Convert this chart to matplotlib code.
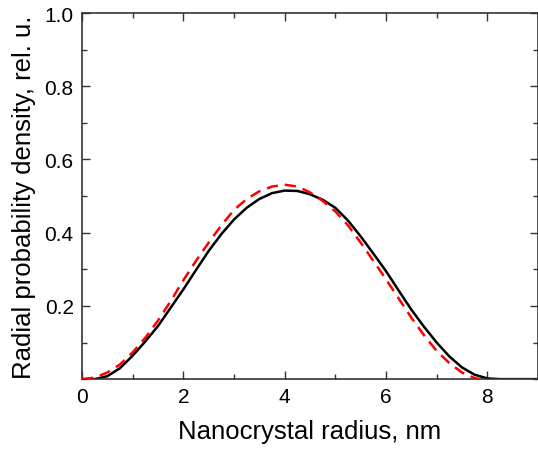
import matplotlib
matplotlib.use("Agg")
import matplotlib.pyplot as plt
from matplotlib.ticker import MultipleLocator, FixedLocator

plt.rcParams['font.family'] = ['Liberation Sans', 'DejaVu Sans']

# black solid curve
x_black = [0, 0.25, 0.5, 0.75, 1.0, 1.25, 1.5, 1.75, 2.0, 2.25, 2.5, 2.75, 3.0,
           3.25, 3.5, 3.75, 4.0, 4.25, 4.5, 4.75, 5.0, 5.25, 5.5, 5.75, 6.0,
           6.25, 6.5, 6.75, 7.0, 7.25, 7.5, 7.75, 8.0, 8.25, 9.0]
y_black = [0, 0.0, 0.008, 0.03, 0.064, 0.103, 0.145, 0.195, 0.245, 0.298, 0.35,
           0.396, 0.436, 0.468, 0.492, 0.508, 0.515, 0.514, 0.505, 0.49, 0.468,
           0.433, 0.39, 0.343, 0.295, 0.242, 0.19, 0.143, 0.10, 0.062, 0.032,
           0.012, 0.002, 0.0, 0.0]

# red dashed curve
x_red = [0, 0.25, 0.5, 0.75, 1.0, 1.25, 1.5, 1.75, 2.0, 2.25, 2.5, 2.75, 3.0,
         3.25, 3.5, 3.75, 4.0, 4.25, 4.5, 4.75, 5.0, 5.25, 5.5, 5.75, 6.0,
         6.25, 6.5, 6.75, 7.0, 7.25, 7.5, 7.75, 7.85]
y_red = [0, 0.004, 0.018, 0.04, 0.073, 0.113, 0.16, 0.213, 0.27, 0.323, 0.373,
         0.42, 0.462, 0.492, 0.513, 0.526, 0.531, 0.526, 0.51, 0.487, 0.458, 0.42,
         0.373, 0.323, 0.273, 0.22, 0.168, 0.12, 0.077, 0.044, 0.018, 0.003, 0]

fig = plt.figure(figsize=(5.38, 4.52), dpi=100)
ax = fig.add_axes([0.1524, 0.159, 0.8476, 0.81])

ax.plot(x_black, y_black, color='black', lw=1.8, zorder=2)
ax.plot(x_red, y_red, color='red', lw=1.8, ls=(0, (4.5, 2.8)), zorder=3)

ax.set_xlim(0, 9)
ax.set_ylim(0, 1.0)
ax.xaxis.set_major_locator(MultipleLocator(2))
ax.xaxis.set_minor_locator(MultipleLocator(1))
ax.yaxis.set_major_locator(FixedLocator([0.2, 0.4, 0.6, 0.8, 1.0]))
ax.yaxis.set_minor_locator(MultipleLocator(0.1))
ax.set_yticklabels(['0.2', '0.4', '0.6', '0.8', '1.0'])

ax.tick_params(which='both', direction='in', top=True, right=True,
               width=1.0, color='#333333', labelsize=15)
ax.tick_params(which='major', length=6, pad=6)
ax.tick_params(which='minor', length=3.5)
for s in ax.spines.values():
    s.set_linewidth(1.2)
    s.set_color('#333333')

ax.set_xlabel('Nanocrystal radius, nm', fontsize=18.5, labelpad=9)
ax.set_ylabel('Radial probability density, rel. u.', fontsize=18.5, labelpad=6)

fig.savefig('out.png', dpi=100)
